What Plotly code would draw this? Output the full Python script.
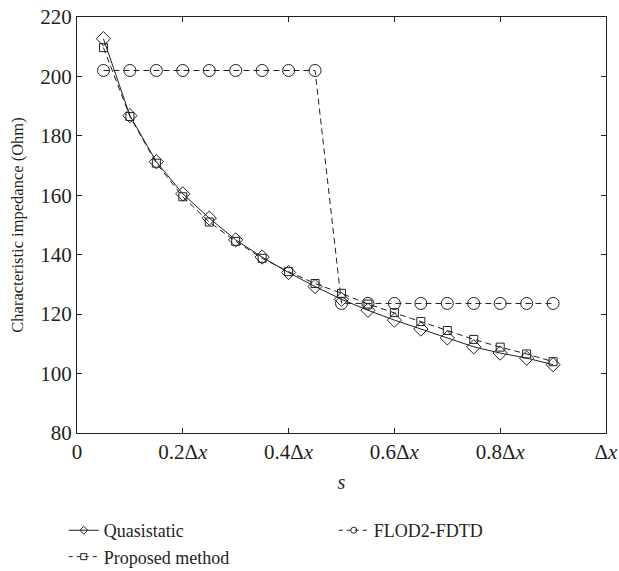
import plotly.graph_objects as go

s_vals = [0.05, 0.10, 0.15, 0.20, 0.25, 0.30, 0.35, 0.40, 0.45, 0.50,
          0.55, 0.60, 0.65, 0.70, 0.75, 0.80, 0.85, 0.90]
quasistatic = [212.7, 186.8, 171.3, 160.5, 152.3, 145.0, 139.2, 134.0, 129.3, 125.0,
               121.3, 118.0, 115.0, 112.0, 109.0, 106.9, 105.2, 103.0]
proposed = [209.7, 186.5, 170.8, 159.5, 151.0, 144.5, 138.8, 134.3, 130.3, 127.0,
            123.4, 120.5, 117.5, 114.5, 111.5, 108.9, 106.6, 104.0]
flod2 = [202.0, 202.0, 202.0, 202.0, 202.0, 202.0, 202.0, 202.0, 202.0, 123.6,
         123.6, 123.6, 123.6, 123.6, 123.6, 123.6, 123.6, 123.6]

x_tickvals = [0, 0.2, 0.4, 0.6, 0.8, 1.0]
x_ticktext = ["0", "0.2Δ<i>x</i>", "0.4Δ<i>x</i>", "0.6Δ<i>x</i>", "0.8Δ<i>x</i>", "Δ<i>x</i>"]

FONT = "Liberation Serif, Times New Roman, serif"
INK = "#231f20"

series = [
    ("Quasistatic", quasistatic, "diamond-open", 11, None, 1),
    ("FLOD2-FDTD", flod2, "circle-open", 12, "6px,4px", 2),
    ("Proposed method", proposed, "square-open", 8, "6px,4px", 3),
]

fig = go.Figure()
for name, ys, sym, size, dash, rank in [series[1], series[2], series[0]]:
    fig.add_trace(go.Scatter(
        x=s_vals, y=ys, name=name, mode="lines+markers", showlegend=False,
        line=dict(color=INK, width=1, dash=dash or "solid"),
        marker=dict(symbol=sym, size=size, color=INK, line=dict(width=1, color=INK))))
for name, ys, sym, size, dash, rank in series:
    fig.add_trace(go.Scatter(
        x=[None], y=[None], name=name, mode="lines+markers", legendrank=rank,
        line=dict(color=INK, width=1, dash="4px,4px" if dash else "solid"),
        marker=dict(symbol=sym, size=6, color=INK, line=dict(width=1, color=INK))))

fig.update_layout(
    width=619, height=571,
    margin=dict(l=77, r=13, t=17, b=138, autoexpand=False),
    paper_bgcolor="white", plot_bgcolor="white",
    font=dict(family=FONT, size=20, color=INK),
    showlegend=True,
    legend=dict(orientation="h", x=-0.025, xanchor="left", y=-0.19, yanchor="top",
                entrywidth=225, entrywidthmode="pixels",
                font=dict(family=FONT, size=18, color=INK),
                tracegroupgap=0, itemwidth=30, bgcolor="rgba(0,0,0,0)"),
)
fig.update_xaxes(
    range=[0, 1], tickvals=x_tickvals, ticktext=x_ticktext, automargin=False,
    ticklabeloverflow="allow",
    showgrid=False, zeroline=False, showline=True, linecolor=INK, linewidth=1,
    mirror="ticks", ticks="inside", ticklen=5, tickcolor=INK,
    tickfont=dict(family=FONT, size=21),
    title=dict(text="<i>s</i>", standoff=11, font=dict(family=FONT, size=20)),
)
fig.update_yaxes(
    range=[80, 220], dtick=20, automargin=False,
    ticklabeloverflow="allow",
    showgrid=False, zeroline=False, showline=True, linecolor=INK, linewidth=1,
    mirror="ticks", ticks="inside", ticklen=5, tickcolor=INK,
    tickfont=dict(family=FONT, size=21),
    title=dict(text="Characteristic impedance (Ohm)", standoff=12, font=dict(family=FONT, size=16.5)),
)

fig.write_html("out.html", config={"displayModeBar": False},
               post_script="document.body.style.margin='0px';document.body.style.overflow='hidden';")
